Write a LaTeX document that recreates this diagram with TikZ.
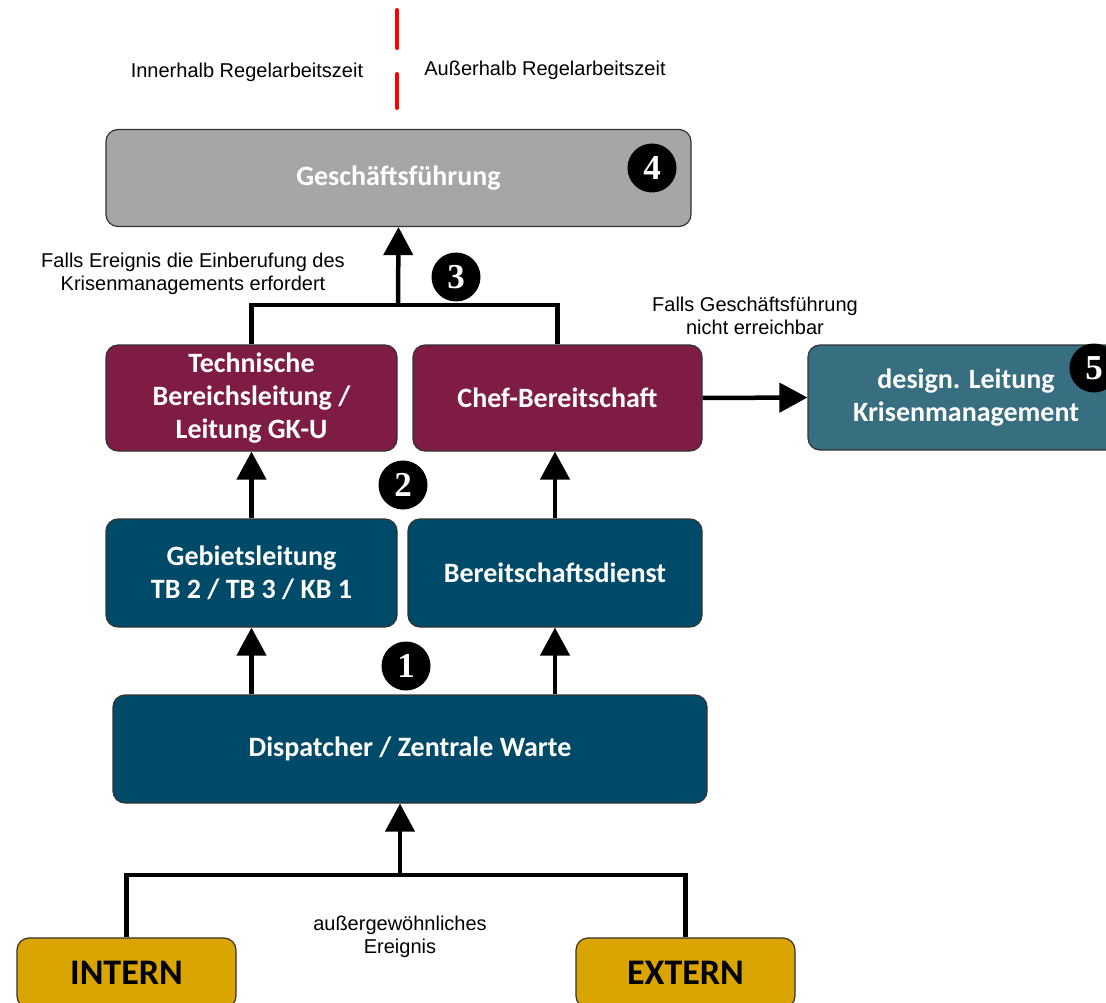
\documentclass[tikz,border=0pt]{standalone}
\usepackage{fontspec}
\setmainfont{Liberation Sans}
\newfontfamily\boxfont{Carlito}
\newfontfamily\numfont{Liberation Serif}
\usetikzlibrary{arrows.meta}

\definecolor{gfgray}{HTML}{A6A6A6}
\definecolor{maroon}{HTML}{7F1C46}
\definecolor{darkblue}{HTML}{004A69}
\definecolor{teal}{HTML}{376E80}
\definecolor{gold}{HTML}{DAA500}

\begin{document}
\begin{tikzpicture}[x=1pt, y=-1pt,
  box/.style={draw=black!80, line width=1.2pt, rounded corners=12pt, align=center,
    font=\boxfont\bfseries\fontsize{28}{33}\selectfont, text=white},
  srcbox/.style={box, fill=gold, text=black, font=\boxfont\bfseries\fontsize{36}{40}\selectfont,
    minimum width=219pt, minimum height=70pt},
  num/.style={circle, fill=black, text=white, inner sep=0pt, minimum size=49pt,
    font=\numfont\bfseries\fontsize{35}{35}\selectfont},
  note/.style={align=center, font=\fontsize{20}{22.5}\selectfont},
  link/.style={line width=4.5pt},
  arr/.style={link, -{Triangle[width=29pt, length=28pt]}}]

  \useasboundingbox (0,0) rectangle (1106,1003);

  % boxes
  \node[box, fill=gfgray, minimum width=585pt, minimum height=97pt] (gf) at (398.5,178) {Geschäftsführung};
  \node[box, fill=maroon, minimum width=291pt, minimum height=106pt] (tbl) at (251.5,398) {Technische\\Bereichsleitung /\\Leitung GK-U};
  \node[box, fill=maroon, minimum width=289pt, minimum height=106pt] (chef) at (557.5,398) {Chef-Bereitschaft};
  \node[box, fill=teal, minimum width=316pt, minimum height=105pt] (design) at (966,397.5) {design. Leitung\\Krisenmanagement};
  \node[box, fill=darkblue, minimum width=291pt, minimum height=108pt] (gl) at (251.5,573) {Gebietsleitung\\TB 2 / TB 3 / KB 1};
  \node[box, fill=darkblue, minimum width=294pt, minimum height=108pt] (bd) at (555,573) {Bereitschaftsdienst};
  \node[box, fill=darkblue, minimum width=594pt, minimum height=108pt] (disp) at (410,749) {Dispatcher / Zentrale Warte};
  \node[srcbox] (intern) at (126.5,973) {INTERN};
  \node[srcbox] (extern) at (685.5,973) {EXTERN};

  % numbers
  \node[num] (n1) at (406,666) {1};
  \node[num] (n2) at (403,485) {2};
  \node[num] (n3) at (456,277) {3};
  \node[num] (n4) at (652,168) {4};
  \node[num] (n5) at (1094,368) {5};

  % helper points
  \coordinate (jt) at (398,305);
  \coordinate (jb) at (400,875);
  \coordinate (sep1) at (397,10);
  \coordinate (sep2) at (397,108);

  % arcs
  \draw[red, line width=4pt, line cap=round, dash pattern=on 38pt off 26pt] (sep1) -- (sep2);
  \draw[link] (tbl.north) |- (jt) -| (chef.north);
  \draw[arr] (jt) -- (gf.south);
  \draw[arr] (chef.east) -- (design.west);
  \draw[arr] (gl.north) -- (tbl.south);
  \draw[arr] (bd.north) -- (bd.north |- chef.south);
  \draw[arr] (gl.south |- disp.north) -- (gl.south);
  \draw[arr] (bd.south |- disp.north) -- (bd.south);
  \draw[link] (intern.north) |- (jb) -| (extern.north);
  \draw[arr] (jb) -- (jb |- disp.south);

  % labels
  \node[note] (inner) at (247,72) {Innerhalb Regelarbeitszeit};
  \node[note] (outer) at (545,70) {Außerhalb Regelarbeitszeit};
  \node[note] (crisis) at (193,274) {Falls Ereignis die Einberufung des\\Krisenmanagements erfordert};
  \node[note] (absent) at (755,316) {Falls Geschäftsführung\\nicht erreichbar};
  \node[note] (event) at (400,937) {außergewöhnliches\\Ereignis};

\end{tikzpicture}
\end{document}
